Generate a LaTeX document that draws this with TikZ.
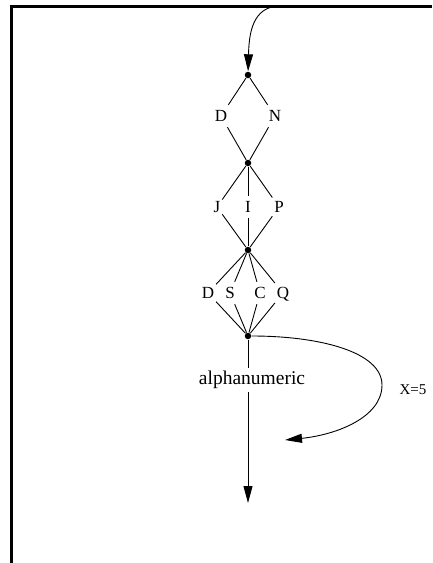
\documentclass[tikz,border=0pt]{standalone}
\usepackage{fontspec}
\setmainfont{Liberation Serif}
\usetikzlibrary{arrows.meta}

\begin{document}
\begin{tikzpicture}[x=1pt,y=-1pt,>={Triangle[length=17pt,width=9pt]},
	line width=0.9pt]
	\tikzstyle{junction}=[circle,fill=black,inner sep=0pt,minimum size=6.5pt]
	\tikzstyle{letter}=[inner xsep=1.5pt,inner ysep=5pt,font=\fontsize{17}{17}\selectfont,
	text height=11.5pt,text depth=0pt]
	\useasboundingbox (0,0) rectangle (432,563);
	
	% frame
	\draw[line width=2.4pt] (432,6.5) -- (11.5,6.5) -- (11.5,563);
	
	\coordinate (top) at (272,7);
	\node[junction] (j1) at (248,75) {};
	\node[letter]   (D1) at (221,116) {D};
	\node[letter]   (N)  at (275,116) {N};
	\node[junction] (j2) at (248,163) {};
	\node[letter]   (J)  at (217,207) {J};
	\node[letter]   (I)  at (248,207) {I};
	\node[letter]   (P)  at (279,207) {P};
	\node[junction] (j3) at (248,250) {};
	\node[letter]   (D2) at (208,293) {D};
	\node[letter]   (S)  at (230,293) {S};
	\node[letter]   (C)  at (260,293) {C};
	\node[letter]   (Q)  at (283,293) {Q};
	\node[junction] (j4) at (248,336) {};
	\node[inner sep=3pt,font=\fontsize{19.5}{19.5}\selectfont] (alnum) at (252,380) {alphanumeric};
	\coordinate (out) at (248,503);
	\coordinate (back) at (285,440);
	
	\draw[->] (top) .. controls (252,12) and (249,35) .. (j1);
	\path (j1) edge (D1) edge (N)
	(j2) edge (D1) edge (N) edge (J) edge (I) edge (P)
	(j3) edge (J) edge (I) edge (P) edge (D2) edge (S) edge (C) edge (Q)
	(j4) edge (D2) edge (S) edge (C) edge (Q);
	\draw (j4) -- (j4 |- alnum.north);
	\draw[->] (j4 |- alnum.south) -- (out);
	\draw[->] (j4) .. controls (320,336) and (382,352) .. (382,385)
	.. controls (382,418) and (335,435) .. (back);
	\node[font=\fontsize{15}{15}\selectfont] (lab) at (413,390) {X=5};
	
\end{tikzpicture}
\end{document}
